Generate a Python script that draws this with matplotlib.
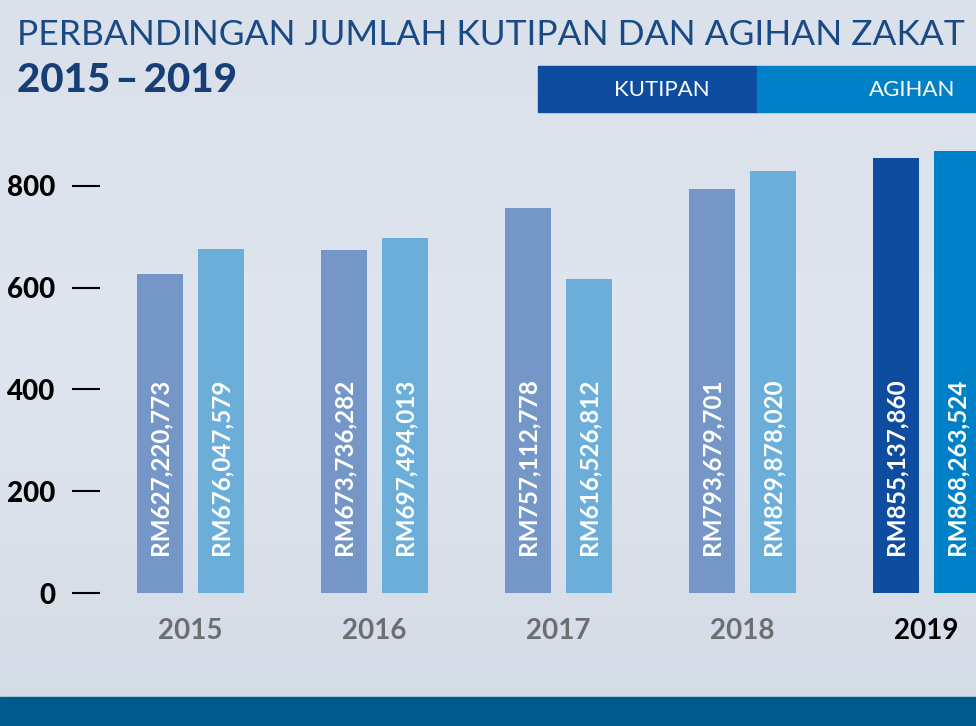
import matplotlib.pyplot as plt
from matplotlib.patches import Rectangle
import numpy as np

years = ["2015", "2016", "2017", "2018", "2019"]
# RM juta
kutipan = [627.220773, 673.736282, 757.112778, 793.679701, 855.137860]
agihan = [676.047579, 697.494013, 616.526812, 829.878020, 868.263524]
kutipan_labels = ["RM627,220,773", "RM673,736,282", "RM757,112,778", "RM793,679,701", "RM855,137,860"]
agihan_labels = ["RM676,047,579", "RM697,494,013", "RM616,526,812", "RM829,878,020", "RM868,263,524"]
yticks = [0, 200, 400, 600, 800]

kutipan_colors = ["#7597c8"] * 4 + ["#0d4c9f"]
agihan_colors = ["#6baed9"] * 4 + ["#0080c6"]
year_colors = ["#6d6e71"] * 4 + ["#000000"]

plt.rcParams["font.family"] = ["Lato", "DejaVu Sans"]

W, H = 976, 726
fig = plt.figure(figsize=(W / 100, H / 100), dpi=100)
fig.patch.set_facecolor("#d9e0ea")

# latar belakang kecerunan lembut
bg = fig.add_axes([0, 0, 1, 1], zorder=-5)
grad = np.linspace(0, 1, 256).reshape(-1, 1)
bg.imshow(grad, aspect="auto", extent=[0, 1, 0, 1],
          cmap=plt.matplotlib.colors.LinearSegmentedColormap.from_list(
              "bg", ["#dbe1ea", "#dfe5ee", "#d3dbe6"]))
bg.axis("off")

ax = fig.add_axes([100 / W, 133 / H, 876 / W, 458 / H])
ax.set_facecolor("none")

x = np.arange(len(years))
w = 0.25
off = 0.166
ax.bar(x - off, kutipan, w, color=kutipan_colors, zorder=2)
ax.bar(x + off, agihan, w, color=agihan_colors, zorder=2)

for i in range(len(years)):
    ax.text(x[i] - off, 75, kutipan_labels[i], rotation=90, rotation_mode="anchor",
            ha="left", va="center", color="white", fontsize=17.5, fontweight="bold", zorder=3)
    ax.text(x[i] + off, 75, agihan_labels[i], rotation=90, rotation_mode="anchor",
            ha="left", va="center", color="white", fontsize=17.5, fontweight="bold", zorder=3)

ax.set_xlim(-0.49, 4.27)
ax.set_ylim(0, 900)
ax.set_yticks(yticks)
ax.set_yticklabels([str(v) for v in yticks], fontsize=20, fontweight="black")
ax.tick_params(axis="y", length=20, width=1.5, pad=12, color="black")
ax.set_xticks(x)
ax.set_xticklabels(years, fontsize=20, fontweight="bold")
ax.tick_params(axis="x", length=0, pad=18)
for lbl, c in zip(ax.get_xticklabels(), year_colors):
    lbl.set_color(c)
for s in ax.spines.values():
    s.set_visible(False)

# tajuk
fig.text(17 / W, 1 - 45 / H, "PERBANDINGAN JUMLAH KUTIPAN DAN AGIHAN ZAKAT",
         fontsize=25.5, color="#1a4a85", ha="left", va="baseline")
fig.text(17 / W, 1 - 92 / H, "2015\u2009\u2013\u20092019", fontsize=29, fontweight="black",
         color="#173f75", ha="left", va="baseline")

# petunjuk
fig.patches.append(Rectangle((538 / W, 1 - 112 / H), 219 / W, 46 / H,
                             transform=fig.transFigure, color="#0d4c9f"))
fig.patches.append(Rectangle((757 / W, 1 - 112 / H), 219 / W, 46 / H,
                             transform=fig.transFigure, color="#0080c6"))
fig.text(662 / W, 1 - 90 / H, "KUTIPAN", fontsize=16, color="white", ha="center", va="center")
fig.text(912 / W, 1 - 90 / H, "AGIHAN", fontsize=16, color="white", ha="center", va="center")

# jalur bawah
fig.patches.append(Rectangle((0, 0), 1, 29 / H, transform=fig.transFigure, color="#005a8c"))

fig.savefig("out.png", dpi=100)
